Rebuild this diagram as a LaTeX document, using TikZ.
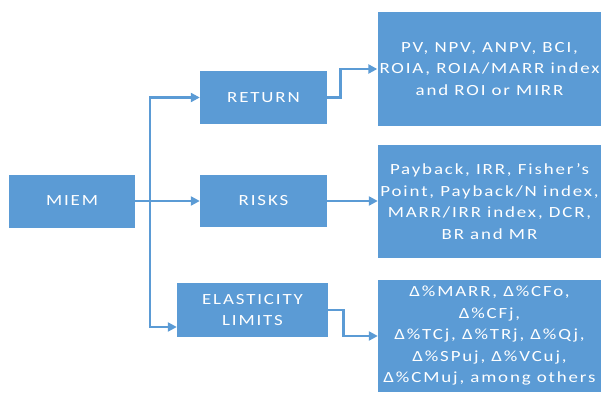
\documentclass[tikz,border=0pt]{standalone}
\usepackage{fontspec}
\setmainfont{Carlito}[FakeStretch=1.22, LetterSpace=12]
\definecolor{boxblue}{RGB}{91, 155, 213}
\usetikzlibrary{arrows.meta, positioning, calc}

\begin{document}
\begin{tikzpicture}[x=1pt, y=1pt,
  bbox/.style={fill=boxblue, text=white, inner sep=2pt, align=center,
    font=\fontsize{15.5}{21.5}\selectfont},
  arr/.style={-{Triangle[length=9pt, width=9pt]}, line width=2.6pt, draw=boxblue}
]
  \useasboundingbox (0,0) rectangle (603,392);
  % left and middle column
  \node[bbox, minimum width=126pt, minimum height=53pt] (miem) at (72, 191) {MIEM};
  \node[bbox, minimum width=127pt, minimum height=53pt] (ret) at (263.5, 294.5) {RETURN};
  \node[bbox, minimum width=127pt, minimum height=52pt] (risk) at (263.5, 191) {RISKS};
  \node[bbox, minimum width=151pt, minimum height=54pt] (elast) at (252.5, 82) {ELASTICITY\\LIMITS};
  % right column
  \node[bbox, minimum width=223pt, minimum height=114pt] (out1) at (489.5, 323)
    {PV, NPV, ANPV, BCI,\\ROIA, ROIA/MARR index\\and ROI or MIRR};
  \node[bbox, minimum width=223pt, minimum height=113pt] (out2) at (489.5, 190.5)
    {Payback, IRR, Fisher's\\Point, Payback/N index,\\MARR/IRR index, DCR,\\BR and MR};
  \node[bbox, minimum width=223pt, minimum height=112pt] (out3) at (489.5, 56)
    {Δ\%MARR, Δ\%CFo,\\Δ\%CFj,\\Δ\%TCj, Δ\%TRj, Δ\%Qj,\\Δ\%SPuj, Δ\%VCuj,\\Δ\%CMuj, among others};
  \coordinate (br) at (150, 191);
  \coordinate (elin) at ($(elast.west)+(0,-17)$);
  % connectors
  \draw[arr] (miem.east) -- (risk.west);
  \draw[arr] (br) |- (ret.west);
  \draw[arr] (br) |- (elin);
  \draw[arr] (ret.east) -- ++(13,0) |- (out1.west);
  \draw[arr] (risk.east) -- (risk.east -| out2.west);
  \draw[arr] (elast.east) -- ++(15,0) |- (out3.west);
\end{tikzpicture}
\end{document}
